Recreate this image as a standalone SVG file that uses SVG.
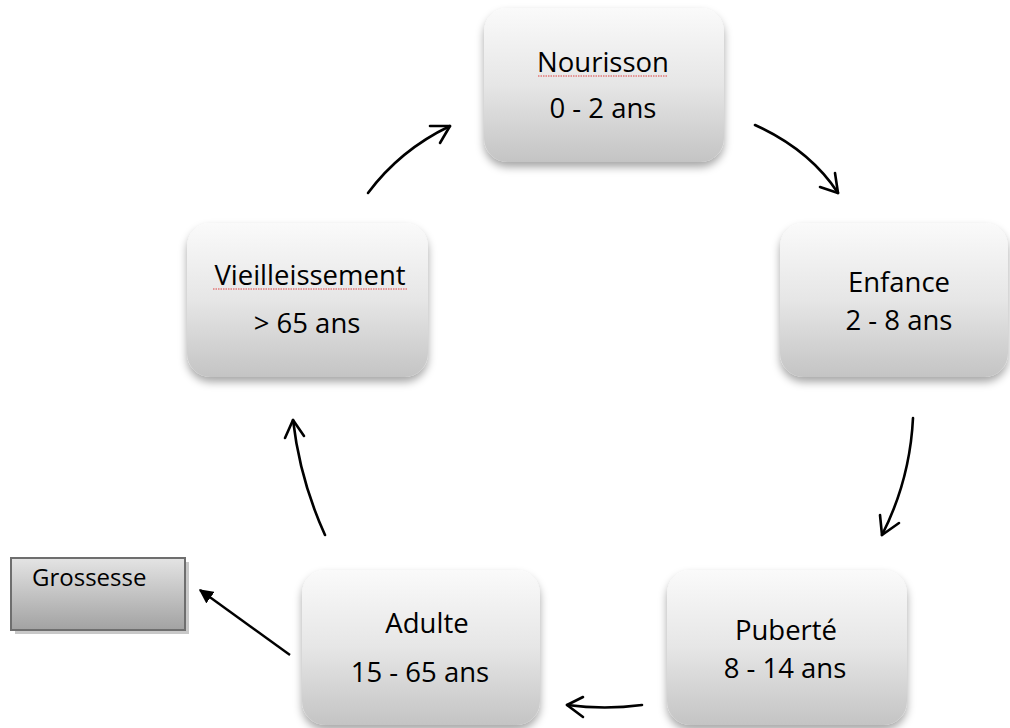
<svg xmlns="http://www.w3.org/2000/svg" width="1010" height="728" viewBox="0 0 1010 728">
<defs>
<linearGradient id="g" x1="0" y1="0" x2="0" y2="1">
<stop offset="0" stop-color="#fafafa"/>
<stop offset="0.5" stop-color="#e6e6e6"/>
<stop offset="1" stop-color="#c4c4c4"/>
</linearGradient>
<linearGradient id="g2" x1="0" y1="0" x2="0" y2="1">
<stop offset="0" stop-color="#e4e4e4"/>
<stop offset="1" stop-color="#a2a2a2"/>
</linearGradient>
<filter id="sh" x="-20%" y="-20%" width="140%" height="150%">
<feDropShadow dx="0" dy="5" stdDeviation="4" flood-color="#000" flood-opacity="0.35"/>
</filter>
<marker id="fill" viewBox="0 0 10 10" refX="9" refY="5" markerWidth="6" markerHeight="6" orient="auto" markerUnits="strokeWidth">
<path d="M0,0 L10,5 L0,10 z" fill="#000"/>
</marker>
</defs>
<style>
.box{fill:url(#g);filter:url(#sh)}
.t{font-family:"Open Sans","Noto Sans",sans-serif;font-size:27.5px;fill:#000;text-anchor:middle}
.c{fill:none;stroke:#000;stroke-width:2.6;stroke-linecap:round;stroke-linejoin:round}
.sq{fill:none;stroke:#e04040;stroke-width:1;stroke-dasharray:1.5 1}
</style>
<g id="nourisson">
<rect class="box" x="484" y="8" width="240" height="154" rx="24"/>
<text class="t" x="603" y="72">Nourisson</text>
<path class="sq" d="M538,76 L668,76"/>
<text class="t" x="603" y="118">0 - 2 ans</text>
</g>
<g id="enfance">
<rect class="box" x="780" y="223" width="228" height="154" rx="24"/>
<text class="t" x="899" y="292">Enfance</text>
<text class="t" x="899" y="330">2 - 8 ans</text>
</g>
<g id="puberte">
<rect class="box" x="667" y="570" width="240" height="155" rx="24"/>
<text class="t" x="786" y="640">Puberté</text>
<text class="t" x="785" y="678">8 - 14 ans</text>
</g>
<g id="adulte">
<rect class="box" x="302" y="570" width="238" height="155" rx="24"/>
<text class="t" x="427" y="633">Adulte</text>
<text class="t" x="420" y="682">15 - 65 ans</text>
</g>
<g id="vieilleissement">
<rect class="box" x="187" y="223" width="241" height="154" rx="24"/>
<text class="t" x="310" y="285">Vieilleissement</text>
<path class="sq" d="M213,289 L408,289"/>
<text class="t" x="307" y="333">&gt; 65 ans</text>
</g>
<g id="grossesse">
<rect x="15" y="562" width="174" height="72" fill="#c8c8c8"/>
<rect x="11" y="558" width="174" height="72" fill="url(#g2)" stroke="#6e6e6e" stroke-width="2"/>
<text x="32" y="586" font-family="'Open Sans','Noto Sans',sans-serif" font-size="24" fill="#000">Grossesse</text>
</g>
<g id="connectors">
<path class="c" d="M368,193 Q400,150 450,126"/>
<path class="c" d="M430,126 L450,126 L440,143"/>
<path class="c" d="M755,125 Q810,150 838,193"/>
<path class="c" d="M820,187 L838,193 L835,173"/>
<path class="c" d="M913,418 Q910,480 882,535"/>
<path class="c" d="M880,515 L882,535 L899,523"/>
<path class="c" d="M642,705 Q605,710 567,705"/>
<path class="c" d="M583,697 L567,705 L583,717"/>
<path class="c" d="M325,535 Q300,480 293,420"/>
<path class="c" d="M285,438 L293,420 L304,436"/>
<path d="M290,655 L200,590" stroke="#000" stroke-width="2.4" marker-end="url(#fill)"/>
</g>
</svg>
